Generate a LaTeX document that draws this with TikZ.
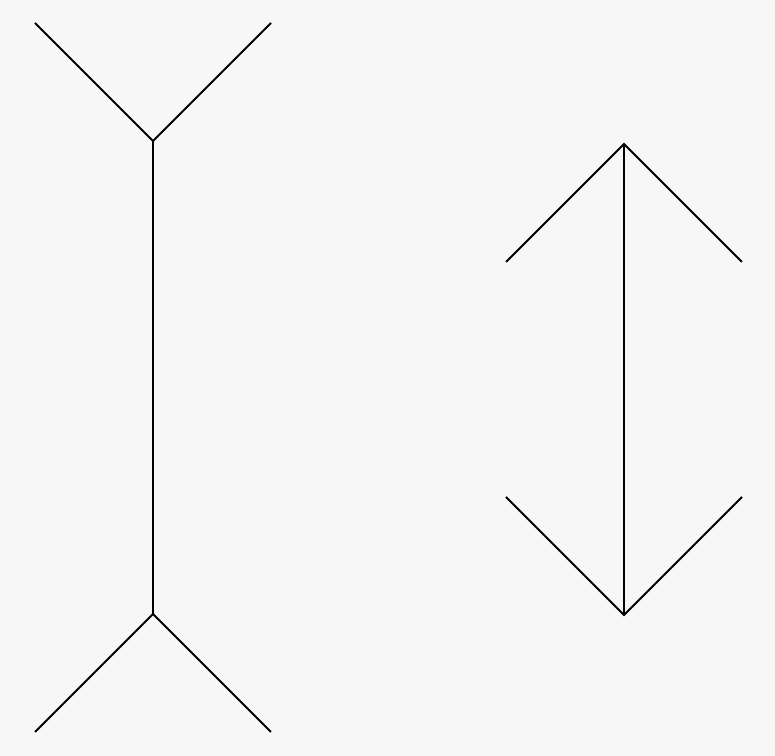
\documentclass[tikz,border=0pt]{standalone}
\usepackage{tikz}

\begin{document}
\begin{tikzpicture}[x=0.02cm,y=-0.02cm,line width=1.1pt]
                    \def\fins{\draw(-118,-118)--(0,0)--(118,-118);}
                    \fill[black!3](0,0)rectangle(775,756);
                    % left figure
                    \draw(153,141)--(153,614);
                    \begin{scope}[shift={(153,141)}]
                        \fins
                    \end{scope}
                    \begin{scope}[shift={(153,614)},yscale=-1]
                        \fins
                    \end{scope}
                    % right figure
                    \draw(624,144)--(624,615);
                    \begin{scope}[shift={(624,144)},yscale=-1]
                        \fins
                    \end{scope}
                    \begin{scope}[shift={(624,615)}]
                        \fins
                    \end{scope}
                \end{tikzpicture}
\end{document}
